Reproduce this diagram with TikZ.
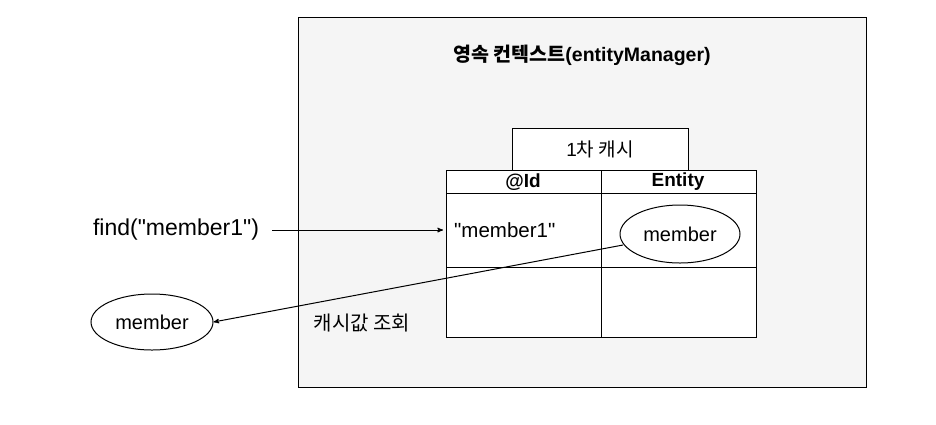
\documentclass[tikz,border=0pt]{standalone}
\usepackage{fontspec}
\setmainfont{Liberation Sans}[Ligatures=TeXOff]
\newfontfamily\cjk{Noto Sans CJK KR}
\usetikzlibrary{positioning}
\usetikzlibrary{arrows}
\usetikzlibrary{shapes.geometric}
\definecolor{ctxbg}{RGB}{245, 245, 245}

\begin{document}
\begin{tikzpicture}[x=1pt, y=-1pt, >=stealth',
    obj/.style={draw, ellipse, line width=1pt, fill=white, inner sep=0pt, font=\fontsize{20}{22}\selectfont}]
    \useasboundingbox (0, 0) rectangle (936, 424);

    % Persistence context
    \draw [line width=1pt, fill=ctxbg] (298, 17) rectangle (866, 387);
    \node (title) at (582, 55) {\bfseries\fontsize{19.5}{22}\selectfont{\cjk 영속 컨텍스트}(entityManager)};

    % First-level cache
    \draw [line width=1pt, fill=white] (512, 128) rectangle (688, 170);
    \node (cache) at (600, 149) {\fontsize{19}{22}\selectfont 1{\cjk 차 캐시}};
    \draw [line width=1pt, fill=white] (446, 170) rectangle (756, 337);
    \draw [line width=1pt] (446, 193) -- (756, 193);
    \draw [line width=1pt] (446, 267) -- (756, 267);
    \draw [line width=1pt] (601, 170) -- (601, 337);
    \node (id) at (523, 182) {\bfseries\fontsize{19}{20}\selectfont @Id};
    \node (entity) at (678, 182) {\bfseries\fontsize{19}{20}\selectfont Entity};
    \node [anchor=west, inner xsep=11pt] (key) at (443, 230) {\fontsize{20.5}{24}\selectfont "member1"};
    \node [obj, minimum width=120pt, minimum height=58pt] (cached) at (680, 234) {member};

    % Request and result
    \node (find) at (176, 230) {\fontsize{23}{26}\selectfont find("member1")};
    \node [obj, minimum width=122pt, minimum height=56pt] (result) at (152, 322) {member};
    \node (lookup) at (362, 323) {\fontsize{20}{24}\selectfont\cjk 캐시값 조회};

    \coordinate (findend) at (272, 230);
    \coordinate (hitstart) at (623, 245);
    \draw [line width=1pt, ->] (findend) -- (key.west);
    \draw [line width=1pt, ->] (hitstart) -- (result.east);
\end{tikzpicture}
\end{document}
